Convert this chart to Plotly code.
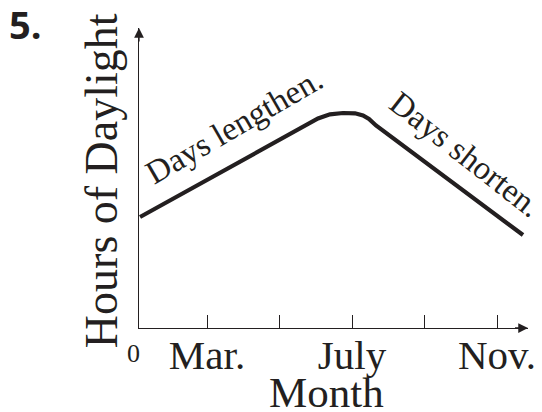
import plotly.graph_objects as go

# Data (months since Jan; hours of daylight, schematic)
month = [0.152, 4.345, 4.703, 5.062, 5.393, 5.752, 6.083, 6.303, 6.469, 6.662, 10.717]
hours = [7.4, 13.013, 13.52, 13.967, 14.247, 14.333, 14.313, 14.167, 13.933, 13.5, 6.2]

tick_vals = [2, 4, 6, 8, 10]
tick_text = ["Mar.", "", "July", "", "Nov."]

x_range = [0.124, 10.855]
y_range = [0, 20]

ink = "#231f20"
serif = "Liberation Serif, Times New Roman, serif"

fig = go.Figure()
fig.add_trace(go.Scatter(x=month, y=hours, mode="lines",
                         line=dict(color=ink, width=4.2),
                         hoverinfo="skip", showlegend=False))

# page body has an 8px default margin, so the figure is 8px smaller
fig.update_layout(
    width=534, height=404, autosize=False,
    margin=dict(l=131, r=14, t=20, b=84, pad=0, autoexpand=False),
    paper_bgcolor="white", plot_bgcolor="white",
    xaxis=dict(range=x_range, showline=True, linecolor=ink, linewidth=1.4,
               ticks="inside", ticklen=13, tickwidth=1.3, tickcolor=ink,
               tickvals=tick_vals, ticktext=tick_text,
               tickfont=dict(family=serif, size=41, color=ink),
               ticklabelstandoff=-9, automargin=False,
               showgrid=False, zeroline=False, fixedrange=True),
    yaxis=dict(range=y_range, showline=True, linecolor=ink, linewidth=1.4,
               ticks="", showticklabels=False, automargin=False,
               showgrid=False, zeroline=False, fixedrange=True),
)

annotations = [
    # axis arrowheads
    dict(x=x_range[1], y=0, ax=x_range[1] - 0.4, ay=0, xref="x", yref="y",
         axref="x", ayref="y", text="", showarrow=True, arrowhead=2,
         arrowsize=1.5, arrowwidth=1.3, arrowcolor=ink),
    dict(x=x_range[0], y=y_range[1], ax=x_range[0], ay=y_range[1] - 1, xref="x", yref="y",
         axref="x", ayref="y", text="", showarrow=True, arrowhead=2,
         arrowsize=1.5, arrowwidth=1.3, arrowcolor=ink),
    # origin label
    dict(x=-0.015, y=-0.085, xref="paper", yref="paper", text="0", showarrow=False,
         xanchor="center", yanchor="middle", font=dict(family=serif, size=26, color=ink)),
    # axis titles
    dict(x=0.483, y=-0.215, xref="paper", yref="paper", text="Month", showarrow=False,
         xanchor="center", yanchor="middle", font=dict(family=serif, size=43, color=ink)),
    dict(x=-0.096, y=0.4917, xref="paper", yref="paper", text="Hours of Daylight",
         showarrow=False, textangle=-90, xanchor="center", yanchor="middle",
         font=dict(family=serif, size=46, color=ink)),
    # curve labels
    dict(x=2.745, y=13.5, xref="x", yref="y", text="Days lengthen.", showarrow=False,
         textangle=-30, xanchor="center", yanchor="middle",
         font=dict(family=serif, size=33, color=ink)),
    dict(x=9.12, y=11.6, xref="x", yref="y", text="Days shorten.", showarrow=False,
         textangle=38, xanchor="center", yanchor="middle",
         font=dict(family=serif, size=33, color=ink)),
    # problem number
    dict(x=-0.293, y=1.013, xref="paper", yref="paper", text="<b>5.</b>", showarrow=False,
         xanchor="center", yanchor="middle",
         font=dict(family="Open Sans, Noto Sans, sans-serif", size=38, color=ink)),
]
fig.update_layout(annotations=annotations)

fig.write_html("out.html", config={"displayModeBar": False})
